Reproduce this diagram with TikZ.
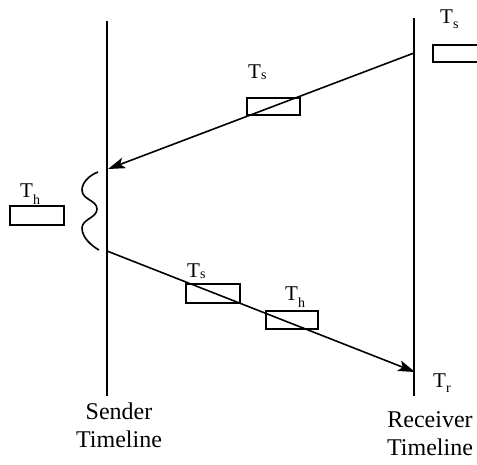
\documentclass[tikz,border=0pt]{standalone}
\usepackage{fontspec}
\setmainfont{Liberation Serif}
\usetikzlibrary{arrows.meta}
\begin{document}
\begin{tikzpicture}[x=1pt,y=-1pt,
  timeline/.style={line width=2.2pt},
  msg/.style={line width=1.6pt,-{Stealth[length=17pt,width=11pt,inset=4pt]}},
  pkt/.style={draw,line width=1.5pt,rectangle,inner sep=0pt},
  tlab/.style={font=\fontsize{21}{24}\selectfont,inner sep=0pt,anchor=base west},
  caption/.style={font=\fontsize{24}{28}\selectfont,align=center,inner sep=0pt,anchor=base}]
\useasboundingbox (0,0) rectangle (477,464);
% timelines
\coordinate (sTop) at (107,21);
\coordinate (sBot) at (107,396);
\coordinate (rTop) at (414,18);
\coordinate (rBot) at (414,396);
\draw[timeline] (sTop) -- (sBot);
\draw[timeline] (rTop) -- (rBot);
% messages
\coordinate (m1s) at (414,53);
\coordinate (m1e) at (108,169);
\coordinate (m2s) at (107,251);
\coordinate (m2e) at (415,372);
\draw[msg] (m1s) -- (m1e);
\draw[msg] (m2s) -- (m2e);
% wavy hold
\draw[line width=1.6pt] (98,172) .. controls (90,175) and (82,182) .. (82,190)
  .. controls (82,200) and (97,200) .. (97,209)
  .. controls (97,218) and (82,219) .. (82,228)
  .. controls (82,238) and (92,246) .. (99,250);
% boxes
\node[pkt,minimum width=53pt,minimum height=17pt] (b1) at (273.5,106.5) {};
\node[pkt,minimum width=50pt,minimum height=17pt,anchor=west] (b2) at (432,53.5) {};
\node[pkt,minimum width=54pt,minimum height=19pt] (b3) at (37,215.5) {};
\node[pkt,minimum width=54pt,minimum height=19pt] (b4) at (213,293.5) {};
\node[pkt,minimum width=52pt,minimum height=18pt] (b5) at (292,320) {};
% labels
\node[tlab] (l1) at (248,78) {T\raisebox{-1pt}{\fontsize{14}{14}\selectfont s}};
\node[tlab] (l2) at (440,23) {T\raisebox{-5pt}{\fontsize{14}{14}\selectfont s}};
\node[tlab] (l3) at (20,197) {T\raisebox{-7pt}{\fontsize{14}{14}\selectfont h}};
\node[tlab] (l4) at (187,277) {T\raisebox{-1pt}{\fontsize{14}{14}\selectfont s}};
\node[tlab] (l5) at (285,300) {T\raisebox{-7pt}{\fontsize{14}{14}\selectfont h}};
\node[tlab] (l6) at (433,387) {T\raisebox{-5pt}{\fontsize{14}{14}\selectfont r}};
% captions
\node[caption] (sc) at (119,447) {Sender\\Timeline};
\node[caption] (rc) at (430,455) {Receiver\\Timeline};
\end{tikzpicture}
\end{document}
